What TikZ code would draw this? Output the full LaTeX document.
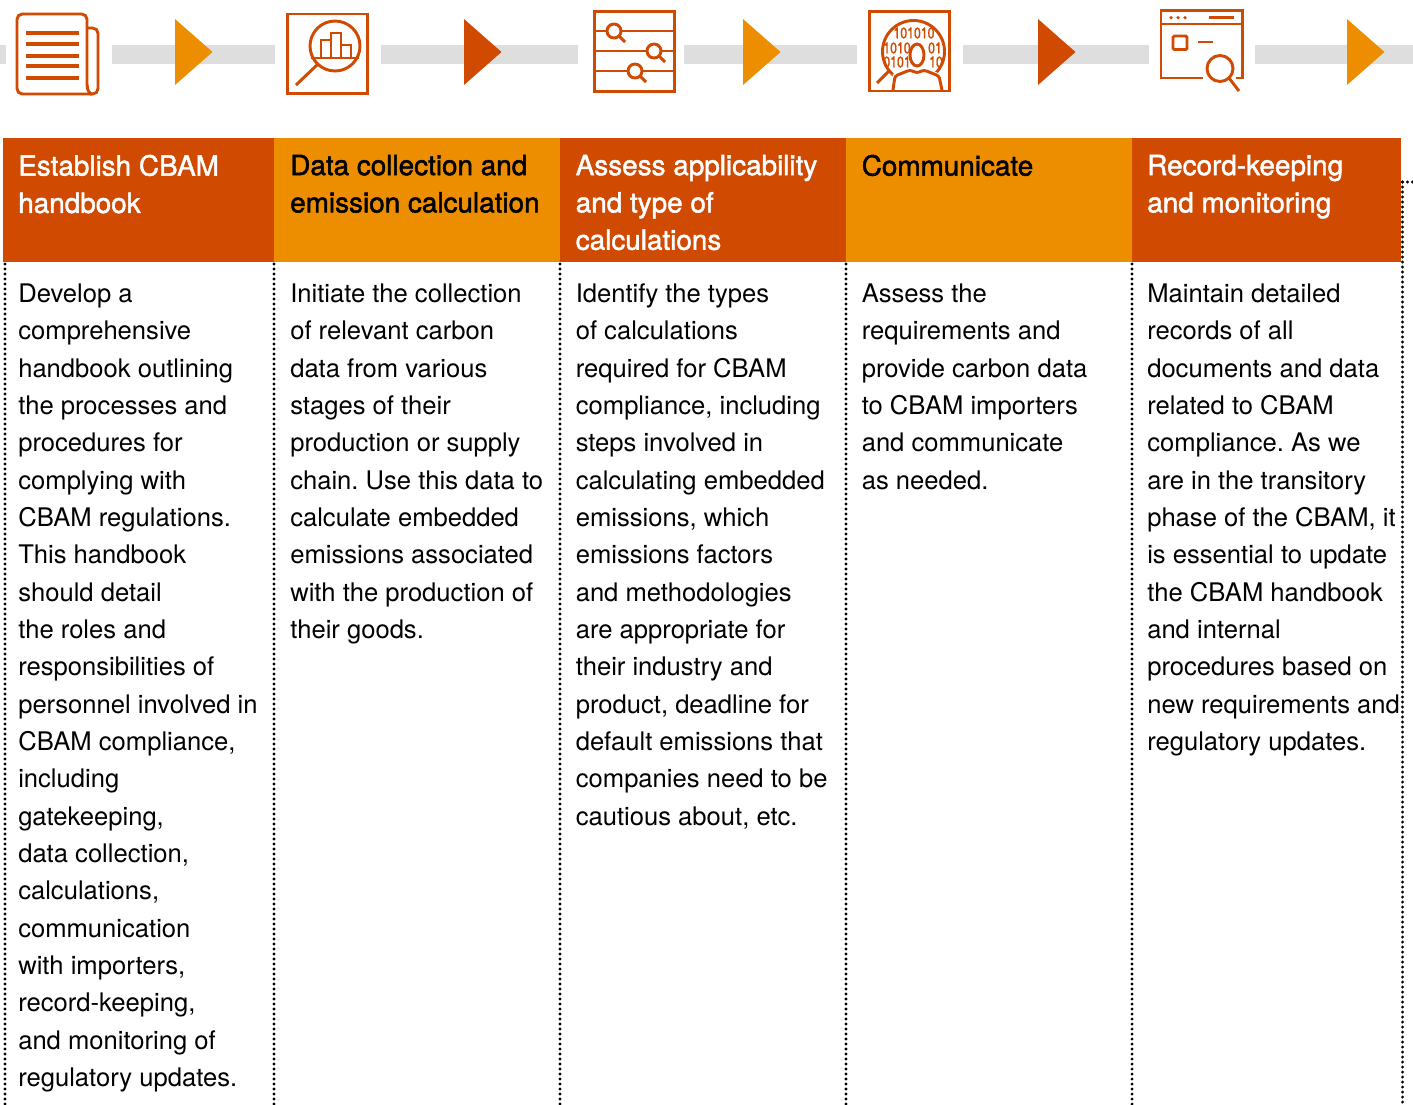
\documentclass[tikz,border=0pt]{standalone}
\usepackage{fontspec}
\setmainfont{TeX Gyre Heros}
\newfontfamily\hdfont[FakeBold=1.6]{TeX Gyre Heros}
\newfontfamily\binfont[FakeBold=1.2]{TeX Gyre Heros}
\frenchspacing
\definecolor{dk}{HTML}{D04A02}
\definecolor{og}{HTML}{ED8E00}
\definecolor{gy}{HTML}{DEDEDE}
\tikzset{
 bar/.style={fill=gy,draw=none},
 tri/.style={draw=none},
 hdr/.style={draw=none},
 ico/.style={draw=dk,line width=2.2pt,fill=none},
 icoB/.style={draw=dk,line width=2pt,fill=none},
 dots/.style={draw=black,line width=2.3pt,line cap=round,dash pattern=on 0pt off 3.75pt},
 htext/.style={anchor=north west,inner sep=0pt,align=left,font=\hdfont\fontsize{20.9}{28}\selectfont},
 btext/.style={anchor=north west,inner sep=0pt,align=left,text=black,font=\fontsize{19.2}{28}\selectfont},
 bin/.style={inner sep=0pt,text=dk,xscale=0.8,transform shape,font=\binfont\fontsize{11.5}{11.5}\selectfont},
}
\begin{document}
\begin{tikzpicture}[x=0.75pt,y=-0.75pt]
\useasboundingbox (0,0) rectangle (1413,1104);
% grey bars
\foreach \a/\b in {0/6,112/275,381/578,684/857,963/1149,1255/1413}
  \fill[bar] (\a,45) rectangle (\b,64);
% triangles
\foreach \x/\c in {175/og,464/dk,743/og,1038/dk,1347/og}
  \fill[tri,\c] (\x,19) -- (\x+37.5,52) -- (\x,85) -- cycle;
% header
\fill[hdr,dk] (3,138) rectangle (274,262);
\fill[hdr,og] (274,138) rectangle (560,262);
\fill[hdr,dk] (560,138) rectangle (846,262);
\fill[hdr,og] (846,138) rectangle (1132,262);
\fill[hdr,dk] (1132,138) rectangle (1401,262);
% dotted
\foreach \x in {5,274,560,846,1132}
  \draw[dots] (\x,264) -- (\x,1108);
\draw[dots] (1402.5,182) -- (1402.5,1108);
\draw[dots] (1402.5,182) -- (1413,182);
% icon 1
\draw[ico,rounded corners=4pt] (87,84) -- (87,14) -- (17,14) -- (17,94) -- (92,94);
\draw[ico,rounded corners=4pt] (87,28) -- (98,28) -- (98,94) -- (90,94);
\draw[ico] (87,84) .. controls (87,91) and (90,94) .. (92,94);
\foreach \y in {33,44,56,66,78}
  \draw[dk,line width=3pt] (26,\y) -- (79,\y);
% icon 2
\draw[ico] (287.5,14) rectangle (367.5,93.5);
\draw[ico] (335,46) circle[radius=25];
\draw[icoB] (311,58) -- (359,58);
\draw[icoB] (321,58) -- (321,40) -- (331,40) -- (331,58);
\draw[icoB] (331,40) -- (331,33) -- (341,33) -- (341,58);
\draw[icoB] (341,45) -- (351,45) -- (351,58);
\draw[ico] (317,65) -- (296,85);
% icon 3
\draw[ico] (594.5,11.5) rectangle (674.5,91.5);
\foreach \y in {31,51,71}
  \draw[ico] (594,\y) -- (675,\y);
\foreach \x/\y in {614/31,654/51,635/71} {
  \fill[white] (\x,\y) circle[radius=7];
  \draw[ico] (\x,\y) circle[radius=7];
  \draw[ico] (\x+5,\y+5) -- (\x+11,\y+11);
}
% icon 4
\draw[ico] (913.5,51.5) circle[radius=31];
\node[bin] (b1) at (914,33) {101010};
\node[bin] (b2) at (897,48) {1010};
\node[bin] (b3) at (935,48) {01};
\node[bin] (b4) at (897,62) {0101};
\node[bin] (b5) at (936,62) {10};
\fill[white] (890,92) -- (893,74) -- (910,68) -- (917,71) -- (924,68) -- (941,74) -- (945,92) -- cycle;
\draw[ico] (869.5,11.5) rectangle (949.5,91);
\draw[ico,fill=white] (917,55) ellipse[x radius=7,y radius=11];
\draw[ico,rounded corners=2pt] (893,90) -- (895,76) -- (910,70) -- (917,73) -- (924,70) -- (939,76) -- (942,90);
\draw[ico] (877,83) -- (890,70);
% icon 5
\draw[ico] (1203,78) -- (1161,78) -- (1161,10.5) -- (1242.5,10.5) -- (1242.5,78) -- (1236,78);
\draw[ico] (1161,24) -- (1243,24);
\foreach \x in {1171,1178,1185}
  \fill[dk] (\x,17.7) circle[radius=1.8];
\draw[ico] (1209,17.7) -- (1234,17.7);
\draw[ico,rounded corners=1pt] (1173,36) rectangle (1187,49.5);
\draw[ico] (1198,42) -- (1213,42);
\draw[ico] (1220,68.5) circle[radius=13];
\draw[ico] (1229,78) -- (1239,91);
% headers
\node[htext,text=white] (h1) at (18,154.5) {Establish CBAM\\handbook};
\node[htext,text=black] (h2) at (290,154.5) {Data collection and\\emission calculation};
\node[htext,text=white] (h3) at (575.5,154.5) {Assess applicability\\and type of\\calculations};
\node[htext,text=black] (h4) at (861.5,154.5) {Communicate};
\node[htext,text=white] (h5) at (1147,154.5) {Record-keeping\\and monitoring};
% body
\node[btext] (t1) at (18,283.5) {Develop a\\comprehensive\\handbook outlining\\the processes and\\procedures for\\complying with\\CBAM regulations.\\This handbook\\should detail\\the roles and\\responsibilities of\\personnel involved in\\CBAM compliance,\\including\\gatekeeping,\\data collection,\\calculations,\\communication\\with importers,\\record-keeping,\\and monitoring of\\regulatory updates.};
\node[btext] (t2) at (290,283.5) {Initiate the collection\\of relevant carbon\\data from various\\stages of their\\production or supply\\chain. Use this data to\\calculate embedded\\emissions associated\\with the production of\\their goods.};
\node[btext] (t3) at (575.5,283.5) {Identify the types\\of calculations\\required for CBAM\\compliance, including\\steps involved in\\calculating embedded\\emissions, which\\emissions factors\\and methodologies\\are appropriate for\\their industry and\\product, deadline for\\default emissions that\\companies need to be\\cautious about, etc.};
\node[btext] (t4) at (861.5,283.5) {Assess the\\requirements and\\provide carbon data\\to CBAM importers\\and communicate\\as needed.};
\node[btext] (t5) at (1147,283.5) {Maintain detailed\\records of all\\documents and data\\related to CBAM\\compliance. As we\\are in the transitory\\phase of the CBAM, it\\is essential to update\\the CBAM handbook\\and internal\\procedures based on\\new requirements and\\regulatory updates.};
\end{tikzpicture}
\end{document}
